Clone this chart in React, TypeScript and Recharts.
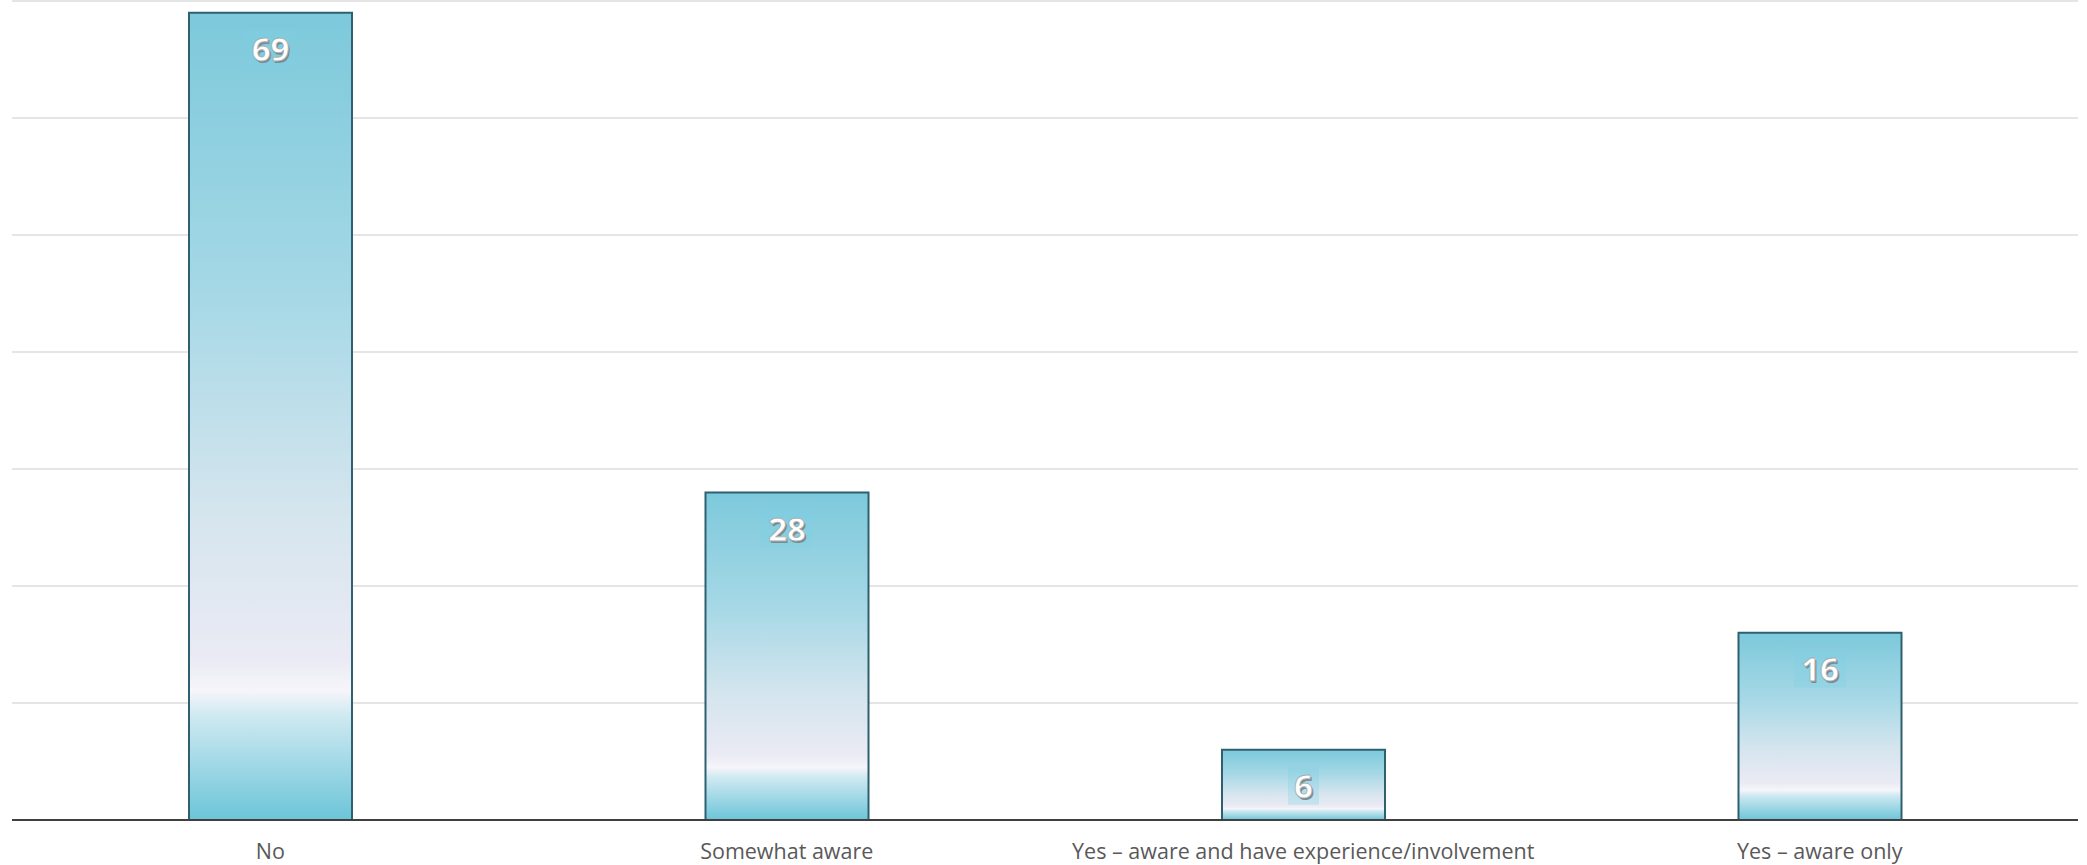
import React from 'react';
import { BarChart, Bar, XAxis, YAxis, CartesianGrid, LabelList } from 'recharts';

const CATEGORIES = ['No', 'Somewhat aware', 'Yes – aware and have experience/involvement', 'Yes – aware only'];
const VALUES = [69, 28, 6, 16];
const Y_TICKS = [0, 10, 20, 30, 40, 50, 60, 70];

const data = CATEGORIES.map((name, i) => ({ name, value: VALUES[i] }));

const FONT = '"Open Sans", "Liberation Sans", sans-serif';

// white number with grey drop shadow, sitting in a faint blue box
const renderLabel = (props: any) => {
  const { x, y, width, value } = props;
  const cx = x + width / 2;
  const cy = y + 36;
  const w = String(value).length * 21 + 10;
  return (
    <g>
      <rect x={cx - w / 2} y={cy - 19} width={w} height={38} fill="#7fd0e6" opacity={0.3} />
      <text x={cx + 1.5} y={cy + 2} textAnchor="middle" dominantBaseline="central"
        fontFamily={FONT} fontSize={33} fontWeight={700} fill="#7b8a90">{value}</text>
      <text x={cx} y={cy} textAnchor="middle" dominantBaseline="central"
        fontFamily={FONT} fontSize={33} fontWeight={700} fill="#ffffff" stroke="#a3aeb2" strokeWidth={0.8}>{value}</text>
    </g>
  );
};

export default function App() {
  return (
    <div style={{ position: 'absolute', left: 0, top: 0, background: '#fff' }}>
      <BarChart
        width={2087}
        height={865}
        data={data}
        margin={{ top: 1, right: 9, bottom: 5, left: 12 }}
      >
        <defs>
          <linearGradient id="barFill" x1="0" y1="0" x2="0" y2="1">
            <stop offset="0%" stopColor="#7cc9db" />
            <stop offset="35%" stopColor="#a6d8e6" />
            <stop offset="62%" stopColor="#d5e5ee" />
            <stop offset="80%" stopColor="#eaeaf4" />
            <stop offset="84%" stopColor="#f5f5fa" />
            <stop offset="87%" stopColor="#cfe9f1" />
            <stop offset="100%" stopColor="#6cc5d9" />
          </linearGradient>
        </defs>
        <CartesianGrid vertical={false} stroke="#dcdcdc" strokeWidth={1.5} />
        <XAxis
          dataKey="name"
          height={40}
          tickLine={false}
          axisLine={{ stroke: '#404040', strokeWidth: 2 }}
          tickMargin={18}
          tick={{ fontFamily: FONT, fontSize: 21.5, fill: '#595959' }}
          interval={0}
        />
        <YAxis hide domain={[0, 70]} ticks={Y_TICKS} />
        <Bar
          dataKey="value"
          barSize={163}
          fill="url(#barFill)"
          stroke="#2f6070"
          strokeWidth={2}
          isAnimationActive={false}
        >
          <LabelList dataKey="value" content={renderLabel} />
        </Bar>
      </BarChart>
    </div>
  );
}
